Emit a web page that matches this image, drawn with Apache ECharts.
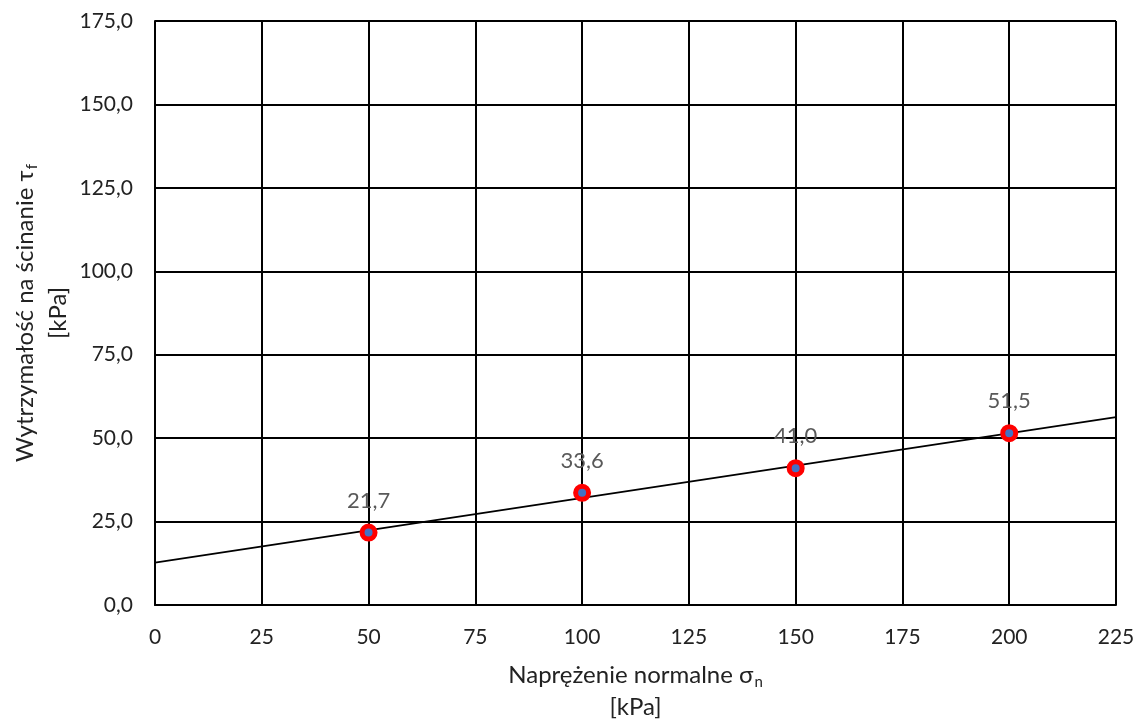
<!DOCTYPE html>
<html><head><meta charset="utf-8">
<script src="https://cdn.jsdelivr.net/npm/echarts@6/dist/echarts.min.js"></script>
<style>html,body{margin:0;padding:0;background:#fff}#c{width:1135px;height:719px}</style>
</head><body><div id="c"></div>
<script>
const sigmaN = [50, 100, 150, 200];
const tauF = [21.7, 33.6, 41.0, 51.5];
const trendX = [0, 225];
const trendY = [12.7, 56.3];
const xTicks = [0, 25, 50, 75, 100, 125, 150, 175, 200, 225];
const yTicks = [0, 25, 50, 75, 100, 125, 150, 175];

const chart = echarts.init(document.getElementById('c'));
const font = 'Lato, "Open Sans", sans-serif';
const nameRich = {
  a: {fontSize: 24, fontFamily: font, color: '#222'},
  sub: {fontSize: 15, fontFamily: font, color: '#222', padding: [14, 0, 0, 1]}
};
chart.setOption({
  animation: false,
  grid: {left: 155, right: 19, top: 21, bottom: 114, containLabel: false, outerBoundsMode: 'none'},
  xAxis: {
    type: 'value', min: 0, max: 225, interval: 25,
    axisLine: {show: true, lineStyle: {color: '#000', width: 2}},
    axisTick: {show: false},
    splitLine: {show: true, lineStyle: {color: '#000', width: 2}},
    axisLabel: {color: '#222', fontSize: 21, fontFamily: font, margin: 22},
    name: '{a|Naprężenie normalne σ}{sub|n}\n{a|[kPa]}',
    nameLocation: 'middle', nameGap: 54, nameMoveOverlap: false,
    nameTextStyle: {color: '#222', fontSize: 24, fontFamily: font, lineHeight: 32, rich: nameRich}
  },
  yAxis: {
    type: 'value', min: 0, max: 175, interval: 25,
    axisLine: {show: true, lineStyle: {color: '#000', width: 2}},
    axisTick: {show: false},
    splitLine: {show: true, lineStyle: {color: '#000', width: 2}},
    axisLabel: {color: '#222', fontSize: 21, fontFamily: font, margin: 22,
      formatter: v => v.toFixed(1).replace('.', ',')},
    name: '{a|Wytrzymałość na ścinanie τ}{sub|f}\n{a|[kPa]}',
    nameLocation: 'middle', nameRotate: 90, nameGap: 80, nameMoveOverlap: false,
    nameTextStyle: {color: '#222', fontSize: 24, fontFamily: font, lineHeight: 33, rich: nameRich}
  },
  series: [
    {
      type: 'line', data: trendX.map((x, i) => [x, trendY[i]]),
      showSymbol: false, silent: true, z: 3,
      lineStyle: {color: '#000', width: 2}
    },
    {
      type: 'scatter', data: sigmaN.map((x, i) => [x, tauF[i]]),
      symbol: 'circle', symbolSize: 13, z: 4,
      itemStyle: {color: '#4472C4', borderColor: '#FF0000', borderWidth: 5, opacity: 1},
      label: {show: true, position: 'top', distance: 12, color: '#595959', fontSize: 22, fontFamily: font,
        formatter: p => p.value[1].toFixed(1).replace('.', ',')}
    }
  ]
});
</script></body></html>
